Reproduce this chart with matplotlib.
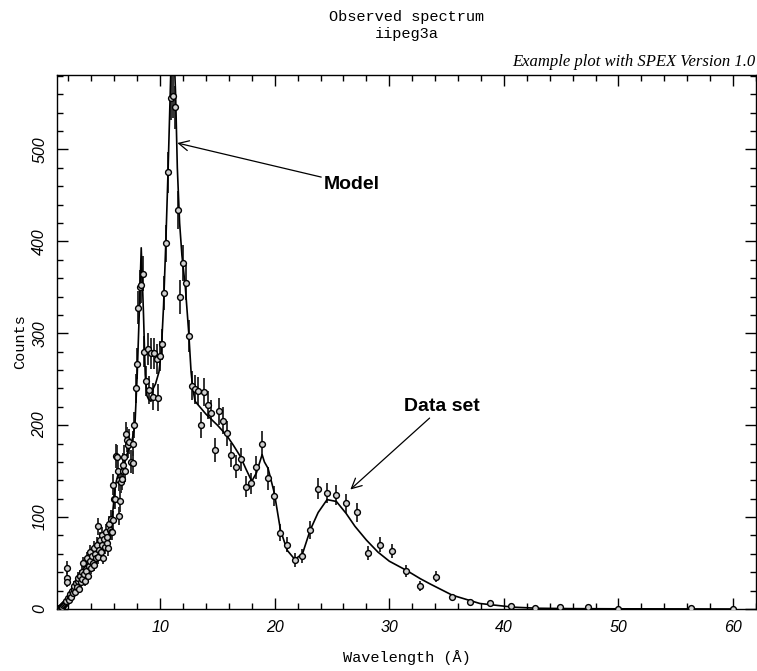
import matplotlib
matplotlib.use("Agg")
import matplotlib.pyplot as plt
from matplotlib.ticker import MultipleLocator

# ---------------- data ----------------
wave = [1.05, 1.12, 1.19, 1.26, 1.33, 1.40, 1.47, 1.54, 1.61, 1.68, 1.75, 1.82,
        1.86, 1.88, 1.90, 1.96, 2.03, 2.10, 2.17, 2.24, 2.31, 2.38, 2.45, 2.52,
        2.59, 2.66, 2.73, 2.80, 2.87, 2.94, 3.01, 3.08, 3.15, 3.22, 3.29, 3.36,
        3.43, 3.50, 3.57, 3.64, 3.71, 3.78, 3.85, 3.92, 3.99, 4.06, 4.13, 4.20,
        4.27, 4.34, 4.41, 4.48, 4.55, 4.62, 4.69, 4.76, 4.83, 4.90, 4.97, 5.04,
        5.11, 5.18, 5.25, 5.32, 5.39, 5.46, 5.53, 5.60, 5.67, 5.74, 5.79, 5.87,
        5.93, 6.00, 6.07, 6.16, 6.20, 6.30, 6.38, 6.45, 6.51, 6.55, 6.66, 6.72,
        6.80, 6.84, 6.95, 7.03, 7.10, 7.18, 7.30, 7.44, 7.61, 7.65, 7.73, 7.88,
        7.96, 8.11, 8.25, 8.30, 8.49, 8.63, 8.75, 8.93, 9.04, 9.19, 9.36, 9.50,
        9.71, 9.85, 10.00, 10.17, 10.35, 10.52, 10.73, 10.93, 11.13, 11.33, 11.54, 11.77,
        12.00, 12.24, 12.50, 12.76, 13.06, 13.28, 13.57, 13.84, 14.19, 14.48, 14.80, 15.15,
        15.50, 15.85, 16.20, 16.66, 17.04, 17.50, 17.94, 18.40, 18.90, 19.42, 19.97, 20.50,
        21.08, 21.75, 22.42, 23.10, 23.79, 24.57, 25.38, 26.23, 27.19, 28.15, 29.17, 30.24,
        31.49, 32.72, 34.08, 35.50, 37.07, 38.80, 40.65, 42.70, 44.90, 47.30, 50.00, 56.30,
        60.00]
counts = [0, 0, 1, 1, 2, 3, 2, 4, 5, 6, 8, 9,
          45, 34, 29, 12, 10, 14, 16, 13, 20, 17, 22, 25,
          19, 28, 24, 30, 34, 22, 36, 29, 40, 33, 50, 38,
          31, 44, 41, 55, 36, 47, 52, 62, 45, 58, 50, 66,
          48, 60, 55, 70, 57, 90, 64, 75, 62, 80, 70, 56,
          76, 68, 84, 72, 78, 66, 92, 86, 98, 84, 84, 97,
          135, 120, 120, 166, 165, 150, 140, 101, 117, 138, 141, 150,
          157, 165, 150, 190, 184, 178, 182, 160, 159, 180, 200, 240,
          267, 328, 350, 352, 365, 280, 248, 283, 238, 278, 231, 278,
          272, 230, 275, 288, 344, 398, 475, 556, 558, 546, 434, 339,
          376, 355, 297, 243, 239, 237, 200, 236, 222, 213, 173, 215,
          205, 191, 168, 155, 163, 133, 137, 154, 180, 142, 123, 83,
          70, 53, 58, 86, 131, 126, 124, 115, 105, 61, 70, 63,
          41, 25, 35, 13, 8, 6.5, 3, 1, 2.5, 2.5, 0, 1,
          0]
errors = [1, 1, 1, 1.5, 1.5, 2, 1.5, 2, 2.5, 2.5, 3, 3,
          7, 6, 5.5, 3.5, 3, 4, 4, 3.5, 4.5, 4, 4.5, 5,
          4.5, 5.5, 5, 5.5, 6, 4.5, 6, 5.5, 6.5, 6, 7, 6,
          5.5, 6.5, 6.5, 7.5, 6, 7, 7, 8, 7, 7.5, 7, 8,
          7, 8, 7.5, 8.5, 7.5, 9.5, 8, 8.5, 8, 9, 8.5, 7.5,
          8.5, 8, 9, 8.5, 9, 8, 9.5, 9, 10, 9, 9, 10,
          11.5, 11, 11, 13, 13, 12, 12, 10, 11, 12, 12, 12,
          12.5, 13, 12, 14, 13.5, 13.5, 13.5, 12.5, 12.5, 13.5, 14, 15.5,
          16.5, 18, 18.5, 19, 19, 17, 16, 17, 15.5, 16.5, 15, 16.5,
          16.5, 15, 16.5, 17, 18.5, 20, 22, 23.5, 23.5, 23.5, 21, 18.5,
          19.5, 19, 17, 15.5, 15.5, 15.5, 14, 15.5, 15, 14.5, 13, 14.5,
          14.5, 14, 13, 12.5, 12.5, 11.5, 11.5, 12.5, 13.5, 12, 11, 9,
          8.5, 7.5, 7.5, 9.5, 11.5, 11, 11, 10.5, 10, 8, 8.5, 8,
          6.5, 5, 6, 3.5, 3, 2.5, 2, 1.5, 1.5, 1.5, 1.5, 1,
          1]

model_wave = [1.0, 1.3, 1.6, 1.9, 2.2, 2.5, 2.8, 3.1, 3.4, 3.7, 4.0, 4.3, 4.6, 4.9,
              5.2, 5.5, 5.7, 5.9, 6.1, 6.3, 6.6, 6.9, 7.2, 7.5, 7.8, 8.0, 8.2, 8.35,
              8.55, 8.7, 8.85, 9.0, 9.2, 9.4, 9.6, 9.9, 10.1, 10.3, 10.5, 10.7, 10.9,
              11.0, 11.2, 11.35, 11.5, 11.7, 11.9, 12.2, 12.5, 12.7, 12.85, 13.05, 14.0,
              15.0, 15.8, 16.4, 17.0, 17.5, 18.0, 18.4, 18.9, 19.1, 19.42, 19.97, 20.5,
              21.08, 21.75, 22.42, 23.1, 23.79, 24.57, 25.38, 26.23, 27.0, 28.0, 29.0,
              30.0, 31.5, 32.7, 33.6, 35.5, 37.9, 40.8, 43.0, 46.0, 50.0, 56.0, 60.0]
model_counts = [0, 1, 4, 8, 13, 18, 23, 28, 33, 38, 43, 48, 54, 60,
                66, 74, 85, 110, 135, 145, 150, 160, 172, 180, 200, 255, 330, 393,
                320, 255, 232, 228, 226, 240, 245, 258, 280, 330, 400, 480, 570,
                620, 610, 560, 480, 420, 385, 350, 300, 258, 240, 226, 212,
                200, 189, 178, 166, 152, 139, 148, 168, 160, 153, 126, 86,
                64, 54, 60, 86, 105, 119, 117, 104, 90, 75, 62,
                52, 42, 33, 27, 15, 6, 2, 0.8, 0.4, 0.2, 0.1, 0]

x_ticks = [10, 20, 30, 40, 50, 60]
y_ticks = [0, 100, 200, 300, 400, 500]

# ---------------- figure ----------------
fig = plt.figure(figsize=(7.57, 6.71), dpi=100)
ax = fig.add_axes([57/757, 1 - 609/671, (756 - 57)/757, (609 - 75)/671])

ax.errorbar(wave, counts, yerr=errors, fmt='none', ecolor='#222222',
            elinewidth=1.3, capsize=0, zorder=2)
ax.plot(model_wave, model_counts, color='black', lw=1.2, zorder=3)
ax.plot(wave, counts, linestyle='none', marker='o', ms=4.2, mfc='#d0d0d0',
        mec='black', mew=1.0, zorder=4)

ax.set_xlim(1, 62)
ax.set_ylim(0, 581)

ax.set_xticks(x_ticks)
ax.set_yticks(y_ticks)
ax.xaxis.set_minor_locator(MultipleLocator(2))
ax.yaxis.set_minor_locator(MultipleLocator(20))
ax.tick_params(which='both', direction='in', top=True, right=True, width=1.0)
ax.tick_params(which='major', length=8)
ax.tick_params(axis='x', which='major', pad=8)
ax.tick_params(axis='y', which='major', pad=7)
ax.tick_params(which='minor', length=4.5)
for lab in ax.get_xticklabels():
    lab.set_fontfamily('Liberation Sans')
    lab.set_fontstyle('italic')
    lab.set_fontsize(11.5)
for lab in ax.get_yticklabels():
    lab.set_fontfamily('Liberation Sans')
    lab.set_fontstyle('italic')
    lab.set_fontsize(11.5)
    lab.set_rotation(90)
    lab.set_va('center')
for sp in ax.spines.values():
    sp.set_linewidth(1.0)

mono = 'Liberation Mono'
ax.set_xlabel('Wavelength (Å)', fontfamily=mono, fontsize=11)
ax.set_ylabel('Counts', fontfamily=mono, fontsize=11)
ax.xaxis.set_label_coords(0.5, -(658 - 609) / (609 - 75))
ax.yaxis.set_label_coords(-(57 - 20) / (756 - 57), 0.5)
ax.xaxis.label.set_va('center')
ax.yaxis.label.set_va('center')

fig.text(406.5/757, 1 - 17/671, 'Observed spectrum', ha='center', va='center',
         fontfamily=mono, fontsize=11)
fig.text(406.5/757, 1 - 34/671, 'iipeg3a', ha='center', va='center',
         fontfamily=mono, fontsize=11)
fig.text(755/757, 1 - 62/671, 'Example plot with SPEX Version 1.0', ha='right',
         va='center', fontfamily='Liberation Serif', fontstyle='italic', fontsize=12)

arrow = dict(arrowstyle='->', color='black', lw=0.9, mutation_scale=18,
             shrinkA=0, shrinkB=0)
ax.annotate('Model', xy=(11.5, 507), xytext=(24.3, 462), fontfamily='Liberation Sans',
            fontweight='bold', fontsize=14, ha='left', va='center', arrowprops=arrow)
ax.annotate('Data set', xy=(26.6, 130), xytext=(31.3, 220), fontfamily='Liberation Sans',
            fontweight='bold', fontsize=14, ha='left', va='center', arrowprops=arrow)

fig.savefig('out.png', dpi=100)
